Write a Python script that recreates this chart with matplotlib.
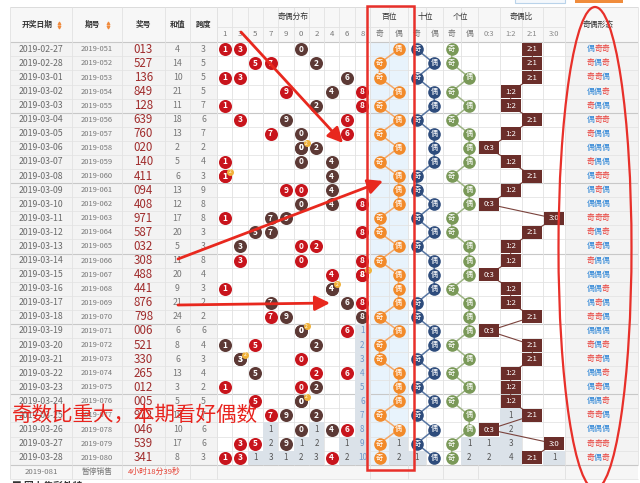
import numpy as np
import matplotlib.pyplot as plt
from matplotlib.patches import Rectangle, Ellipse

plt.rcParams['font.family'] = ['Noto Sans CJK SC', 'DejaVu Sans']

dates = ['2019-02-27', '2019-02-28', '2019-03-01', '2019-03-02', '2019-03-03',
         '2019-03-04', '2019-03-05', '2019-03-06', '2019-03-07', '2019-03-08',
         '2019-03-09', '2019-03-10', '2019-03-11', '2019-03-12', '2019-03-13',
         '2019-03-14', '2019-03-15', '2019-03-16', '2019-03-17', '2019-03-18',
         '2019-03-19', '2019-03-20', '2019-03-21', '2019-03-22', '2019-03-23',
         '2019-03-24', '2019-03-25', '2019-03-26', '2019-03-27', '2019-03-28']
issues = ['2019-%03d' % k for k in range(51, 81)]
numbers = ['013', '527', '136', '849', '128', '639', '760', '020', '140', '411',
           '094', '408', '971', '587', '032', '308', '488', '441', '876', '798',
           '006', '521', '330', '265', '012', '005', '972', '046', '539', '341']
sums = [4, 14, 10, 21, 11, 18, 13, 2, 5, 6, 13, 12, 17, 20, 5,
        11, 20, 9, 21, 24, 6, 8, 6, 13, 3, 5, 18, 10, 17, 8]
spans = [3, 5, 5, 5, 7, 6, 7, 2, 4, 3, 9, 8, 8, 3, 3,
         8, 4, 3, 2, 2, 6, 4, 3, 4, 2, 5, 7, 6, 6, 3]
# ball tone per digit of the number: r = red, b = brown
ball_tone = ['brr', 'rbr', 'rrb', 'rbr', 'rbr', 'rrb', 'rrb', 'bbb', 'rbb', 'brr',
             'rrb', 'bbr', 'bbr', 'brb', 'rbr', 'rrr', 'rrr', 'bbr', 'rbb', 'rbb',
             'bbr', 'rbb', 'bbr', 'rrb', 'rrb', 'bbr', 'brb', 'bbr', 'rrb', 'rrr']
dist_cols = ['1', '3', '5', '7', '9', '0', '2', '4', '6', '8']
ratio_labels = ['0:3', '1:2', '2:1', '3:0']
pos_names = ['百位', '十位', '个位']
next_issue = '2019-081'
next_status = '暂停销售'
countdown = '4小时18分39秒'
headline = '奇数比重大，本期看好偶数'

n = len(numbers)
Y0, RH = 42.3, 14.08
HT, HM = 7.3, 26.5
left_edges = [10, 72, 122, 165, 190, 217]
DX0, DW = 217, 15.3
pos_x0 = [370, 408, 443]
pos_w = [19.0, 17.5, 17.5]
pos_col = ['#f28a2a', '#2e4c7c', '#7a9958']
pos_line = ['#f4a766', '#5876a2', '#9cb383']
RX0, RW = 478, 21.75
FX0, FX1 = 565, 638
RED, BROWN = '#c8141c', '#5c3935'
BOX = '#6b2e2a'
GRAY_BG = '#dbe2e9'


def yc(i):
    return Y0 + (i + 0.5) * RH


def tail(hits):
    last = max(i for i, h in enumerate(hits) if h)
    return [(i, i - last) for i in range(last + 1, n)]


def s_of(d):
    return (d * 0.72) ** 2


fig = plt.figure(figsize=(6.4, 4.83), dpi=100)
ax = fig.add_axes([0, 0, 1, 1])
ax.set_xlim(0, 640)
ax.set_ylim(483, 0)
ax.axis('off')

Y1 = Y0 + n * RH
# backgrounds
ax.add_patch(Rectangle((10, HT), FX1 - 10, Y0 - HT, fc='#f7f7f7', ec='none', zorder=0))
ax.add_patch(Rectangle((10, Y0), 207, n * RH, fc='#f3f3f3', ec='none', zorder=0))
ax.add_patch(Rectangle((pos_x0[0], Y0), 2 * pos_w[0], n * RH, fc='#e8f3fc', ec='none', zorder=0))
ax.add_patch(Rectangle((FX0, Y0), FX1 - FX0, n * RH, fc='#f3f3f3', ec='none', zorder=0))
ax.add_patch(Rectangle((10, Y1), FX1 - 10, RH, fc='#f6f6f6', ec='none', zorder=0))
# fragments of page controls above the table
ax.add_patch(Rectangle((515, -4), 50, 7, fc='#f4f8fc', ec='#b9d3ea', lw=0.8, zorder=1))
ax.add_patch(Rectangle((575, -4), 48, 7, fc='#f08c3c', ec='none', zorder=1))

# grid
for i in range(n + 2):
    y = Y0 + i * RH
    heavy = i % 5 == 0
    ax.hlines(y, 10, FX1, color='#c8c8c8' if heavy else '#e4e4e4', lw=0.8 if heavy else 0.6, zorder=1)
ax.hlines(HT, 10, FX1, color='#dcdcdc', lw=0.7, zorder=1)
ax.hlines(HM, DX0, FX0, color='#e2e2e2', lw=0.6, zorder=1)
vx = list(left_edges) + [DX0 + k * DW for k in range(11)]
for x0, w in zip(pos_x0, pos_w):
    vx += [x0, x0 + w]
vx += [RX0 + k * RW for k in range(5)] + [FX1]
for x in vx:
    ax.vlines(x, HT, Y1, color='#e2e2e2', lw=0.6, zorder=1)
ax.vlines([10, 72, 122, 165, 190, 217, DX0 + 10 * DW, 408, 443, RX0, FX0], Y1, Y1 + RH,
          color='#e0e0e0', lw=0.6, zorder=1)

# header text
hdr = dict(fontsize=5.6, color='#333333', ha='center', va='center', zorder=5)
hy = (HT + Y0) / 2
for txt, x in zip(['开奖日期', '期号', '奖号', '和值', '跨度'], [37, 93, 143.5, 177.5, 203.5]):
    ax.text(x, hy, txt, fontweight='bold', **hdr)
for x in [59, 108]:
    ax.scatter([x], [hy - 1.8], marker='^', s=3, color='#f08a3c', zorder=5)
    ax.scatter([x], [hy + 1.8], marker='v', s=3, color='#f08a3c', zorder=5)
ax.text(DX0 + 5 * DW, (HT + HM) / 2, '奇偶分布', **hdr)
for k, d in enumerate(dist_cols):
    ax.text(DX0 + (k + 0.5) * DW, (HM + Y0) / 2, d, fontsize=5.6, color='#777777',
            ha='center', va='center', zorder=5)
for x0, w, name in zip(pos_x0, pos_w, pos_names):
    ax.text(x0 + w, (HT + HM) / 2, name, **hdr)
    for k, c in enumerate('奇偶'):
        ax.text(x0 + (k + 0.5) * w, (HM + Y0) / 2, c, fontsize=5.6, color='#777777',
                ha='center', va='center', zorder=5)
ax.text(RX0 + 2 * RW, (HT + HM) / 2, '奇偶比', **hdr)
for k, r in enumerate(ratio_labels):
    ax.text(RX0 + (k + 0.5) * RW, (HM + Y0) / 2, r, fontsize=5.4, color='#888888',
            ha='center', va='center', zorder=5)
ax.text(598, hy, '奇偶形态', **hdr)

# left columns
for i in range(n):
    y = yc(i)
    ax.text(41, y, dates[i], fontsize=6.3, color='#6a6a6a', ha='center', va='center', zorder=5)
    ax.text(97, y, issues[i], fontsize=5.4, color='#777777', ha='center', va='center', zorder=5)
    ax.text(143.5, y, numbers[i], fontsize=8.3, color='#a02c2c', ha='center', va='center', zorder=5)
    ax.text(177.5, y, str(sums[i]), fontsize=6.3, color='#777777', ha='center', va='center', zorder=5)
    ax.text(203.5, y, str(spans[i]), fontsize=6.3, color='#777777', ha='center', va='center', zorder=5)

# distribution: omission tails
for k, d in enumerate(dist_cols):
    for i, miss in tail([d in num for num in numbers]):
        ax.bar(DX0 + (k + 0.5) * DW, RH, width=DW, bottom=Y0 + i * RH, color=GRAY_BG, zorder=2)
        ax.text(DX0 + (k + 0.5) * DW, yc(i), str(miss), fontsize=5.8,
                color='#6f97c9' if d == '8' else '#555555', ha='center', va='center', zorder=5)

# distribution: balls
for i, num in enumerate(numbers):
    seen = {}
    for d, tone in zip(num, ball_tone[i]):
        seen[d] = seen.get(d, 0) + 1
        x = DX0 + (dist_cols.index(d) + 0.5) * DW
        ax.scatter([x], [yc(i)], s=s_of(13), color=RED if tone == 'r' else BROWN, zorder=6, lw=0)
        ax.text(x, yc(i), d, fontsize=6, color='white', fontweight='bold', ha='center', va='center', zorder=7)
    for d, c in seen.items():
        if c > 1:
            x = DX0 + (dist_cols.index(d) + 0.5) * DW + 5.5
            ax.scatter([x], [yc(i) - 4.5], s=s_of(7), color='#f0b23a', zorder=8, lw=0)
            ax.text(x, yc(i) - 4.5, str(c), fontsize=3.6, color='white', ha='center', va='center', zorder=9)

# position parity columns
for p in range(3):
    x0, w = pos_x0[p], pos_w[p]
    par = [int(num[p]) % 2 for num in numbers]  # 1 odd, 0 even
    for side, want in [(0, 1), (1, 0)]:
        for i, miss in tail([v == want for v in par]):
            ax.bar(x0 + (side + 0.5) * w, RH, width=w, bottom=Y0 + i * RH, color=GRAY_BG, zorder=2)
            ax.text(x0 + (side + 0.5) * w, yc(i), str(miss), fontsize=5.8, color='#555555',
                    ha='center', va='center', zorder=5)
    xs = [x0 + (0.5 if v == 1 else 1.5) * w for v in par]
    ys = [yc(i) for i in range(n)]
    ax.plot(xs, ys, color=pos_line[p], lw=1.1, zorder=4)
    ax.scatter(xs, ys, s=s_of(12.6), color=pos_col[p], zorder=6, lw=0)
    for x, y, v in zip(xs, ys, par):
        ax.text(x, y, '奇' if v == 1 else '偶', fontsize=5.2, color='white', ha='center', va='center', zorder=7)

# odd/even ratio
odd_cnt = [sum(int(c) % 2 for c in num) for num in numbers]
for k in range(4):
    for i, miss in tail([c == k for c in odd_cnt]):
        ax.bar(RX0 + (k + 0.5) * RW, RH, width=RW, bottom=Y0 + i * RH, color=GRAY_BG, zorder=2)
        ax.text(RX0 + (k + 0.5) * RW, yc(i), str(miss), fontsize=5.8, color='#555555',
                ha='center', va='center', zorder=5)
rxs = [RX0 + (c + 0.5) * RW for c in odd_cnt]
rys = [yc(i) for i in range(n)]
ax.plot(rxs, rys, color='#7a423c', lw=0.8, zorder=4)
ax.bar(rxs, 13, width=20, bottom=[y - 6.5 for y in rys], color=BOX, zorder=6)
for x, y, c in zip(rxs, rys, odd_cnt):
    ax.text(x, y, ratio_labels[c], fontsize=5.6, color='white', ha='center', va='center', zorder=7)

# odd/even form
for i, num in enumerate(numbers):
    for j, c in enumerate(num):
        odd = int(c) % 2 == 1
        ax.text(598 + (j - 1) * 7.6, yc(i), '奇' if odd else '偶', fontsize=5.6,
                color='#e8403a' if odd else '#2f86d6', ha='center', va='center', zorder=5)

# footer row
fy = Y1 + RH / 2
ax.text(41, fy, next_issue, fontsize=5.6, color='#777777', ha='center', va='center', zorder=5)
ax.text(97, fy, next_status, fontsize=5.6, color='#777777', ha='center', va='center', zorder=5)
ax.text(128, fy, countdown, fontsize=5.6, color='#e53c2e', ha='left', va='center', zorder=5)
ax.text(12, 480.5, '■ 网上售彩外特', fontsize=7, color='#333333', fontweight='bold',
        ha='left', va='top', zorder=5)

# red annotations
ax.add_patch(Rectangle((367, 5.5), 46.5, 464, fc='none', ec='#e8302a', lw=1.8, zorder=10))
ax.add_patch(Ellipse((595, 248), 73, 482, fc='none', ec='#e8302a', lw=1.6, zorder=10))
arrow = dict(arrowstyle='-|>,head_length=0.9,head_width=0.45', color='#e8281e', lw=2.0,
             shrinkA=0, shrinkB=0)
for (x0, y0), (x1, y1) in [((241, 32), (343, 143)), ((178, 259), (383, 181)),
                           ((178, 305), (330, 303))]:
    ax.annotate('', xy=(x1, y1), xytext=(x0, y0), arrowprops=arrow, zorder=11)
ax.text(12, 415, headline, fontsize=14.8, color='#e8231d', ha='left', va='center', zorder=12)

fig.savefig('out.png', dpi=100)
